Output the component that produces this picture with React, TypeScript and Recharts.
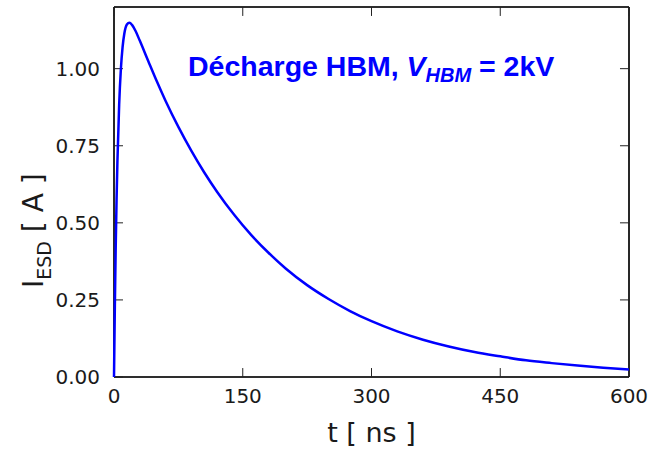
import React from 'react';
import {Line, LineChart, ReferenceLine, XAxis, YAxis} from 'recharts';

// time axis (ns) and current (A)
const tValues = [
    0, 1, 2, 3, 4, 6, 8, 10, 12, 15, 18, 21, 25, 30, 40, 50, 60, 75, 90, 105,
    120, 140, 160, 180, 200, 225, 250, 275, 300, 330, 360, 390, 420, 450, 480,
    510, 540, 570, 600
];
const iValues = [
    0, 0.233, 0.423, 0.577, 0.701, 0.882, 0.998, 1.07, 1.113, 1.143, 1.149, 1.142,
    1.123, 1.091, 1.024, 0.958, 0.896, 0.811, 0.734, 0.664, 0.601, 0.526, 0.46,
    0.403, 0.352, 0.298, 0.253, 0.214, 0.181, 0.148, 0.121, 0.099, 0.081, 0.067,
    0.054, 0.045, 0.037, 0.03, 0.024
];
const xTicks = [0, 150, 300, 450, 600];
const yTicks = [0, 0.25, 0.5, 0.75, 1.0];
const xMax = 600;
const yMax = 1.2;
// inward tick length, in data units (about 9px)
const xTickLen = 10.5;
const yTickLen = 0.029;

const data = tValues.map((t, k) => ({t, i: iValues[k]}));

// the four sides of the box, as corner pairs
const frameSides = [
    [{x: 0, y: 0}, {x: xMax, y: 0}],
    [{x: 0, y: yMax}, {x: xMax, y: yMax}],
    [{x: 0, y: 0}, {x: 0, y: yMax}],
    [{x: xMax, y: 0}, {x: xMax, y: yMax}]
];

const tickFont = {fontFamily: 'DejaVu Sans', fontSize: 20, fill: '#1a1a1a'};

const YLabel = () => (
    <text
        transform="translate(43,288) rotate(-90)"
        fontFamily="DejaVu Sans"
        fontSize={28}
        fill="#1a1a1a"
    >
        <tspan>I</tspan>
        <tspan fontSize={19} dy={8}>ESD</tspan>
        <tspan dy={-8}>{' [ A ]'}</tspan>
    </text>
);

export default function App() {
    return (
        <div style={{position: 'absolute', left: 0, top: 0, width: 649, height: 450, background: '#fff'}}>
            <LineChart width={649} height={450} data={data} margin={{top: 7, right: 20, bottom: 0, left: 0}}>
                <XAxis
                    dataKey="t"
                    type="number"
                    domain={[0, xMax]}
                    ticks={xTicks}
                    height={73}
                    axisLine={false}
                    tickLine={false}
                    tickSize={0}
                    tickMargin={12}
                    tick={tickFont}
                    label={{
                        value: 't [ ns ]',
                        position: 'insideBottom',
                        offset: 8,
                        style: {fontFamily: 'DejaVu Sans', fontSize: 27, fill: '#1a1a1a'}
                    }}
                />
                <YAxis
                    type="number"
                    domain={[0, yMax]}
                    ticks={yTicks}
                    width={114}
                    axisLine={false}
                    tickLine={false}
                    tickSize={0}
                    tickMargin={14}
                    tick={tickFont}
                    tickFormatter={(v: number) => v.toFixed(2)}
                    label={<YLabel/>}
                />
                {/* box round the plot */}
                {frameSides.map((seg, k) => (
                    <ReferenceLine key={`f${k}`} segment={seg} stroke="#111" ifOverflow="visible"/>
                ))}
                {frameSides.map((seg, k) => (
                    <ReferenceLine key={`g${k}`} segment={seg} stroke="#111" strokeWidth={1.6}
                                   ifOverflow="visible"/>
                ))}
                {/* inward ticks on all four sides */}
                {xTicks.map((x) => (
                    <ReferenceLine key={`xb${x}`} segment={[{x, y: 0}, {x, y: yTickLen}]}
                                   stroke="#222" ifOverflow="visible"/>
                ))}
                {xTicks.map((x) => (
                    <ReferenceLine key={`xt${x}`} segment={[{x, y: yMax}, {x, y: yMax - yTickLen}]}
                                   stroke="#222" ifOverflow="visible"/>
                ))}
                {yTicks.map((y) => (
                    <ReferenceLine key={`yl${y}`} segment={[{x: 0, y}, {x: xTickLen, y}]}
                                   stroke="#222" ifOverflow="visible"/>
                ))}
                {yTicks.map((y) => (
                    <ReferenceLine key={`yr${y}`} segment={[{x: xMax, y}, {x: xMax - xTickLen, y}]}
                                   stroke="#222" ifOverflow="visible"/>
                ))}
                <Line
                    dataKey="i"
                    type="monotone"
                    stroke="#0000ff"
                    strokeWidth={2.5}
                    dot={false}
                    isAnimationActive={false}
                />
            </LineChart>
            <svg width={649} height={450} style={{position: 'absolute', left: 0, top: 0, pointerEvents: 'none'}}>
                <text x={188} y={76} fontFamily="Liberation Sans" fontWeight="bold" fontSize={28.5} fill="#0000ff">
                    <tspan>Décharge HBM, </tspan>
                    <tspan fontStyle="italic">V</tspan>
                    <tspan fontStyle="italic" fontSize={20} dy={6}>HBM</tspan>
                    <tspan dy={-6}>{' = 2kV'}</tspan>
                </text>
            </svg>
        </div>
    );
}
